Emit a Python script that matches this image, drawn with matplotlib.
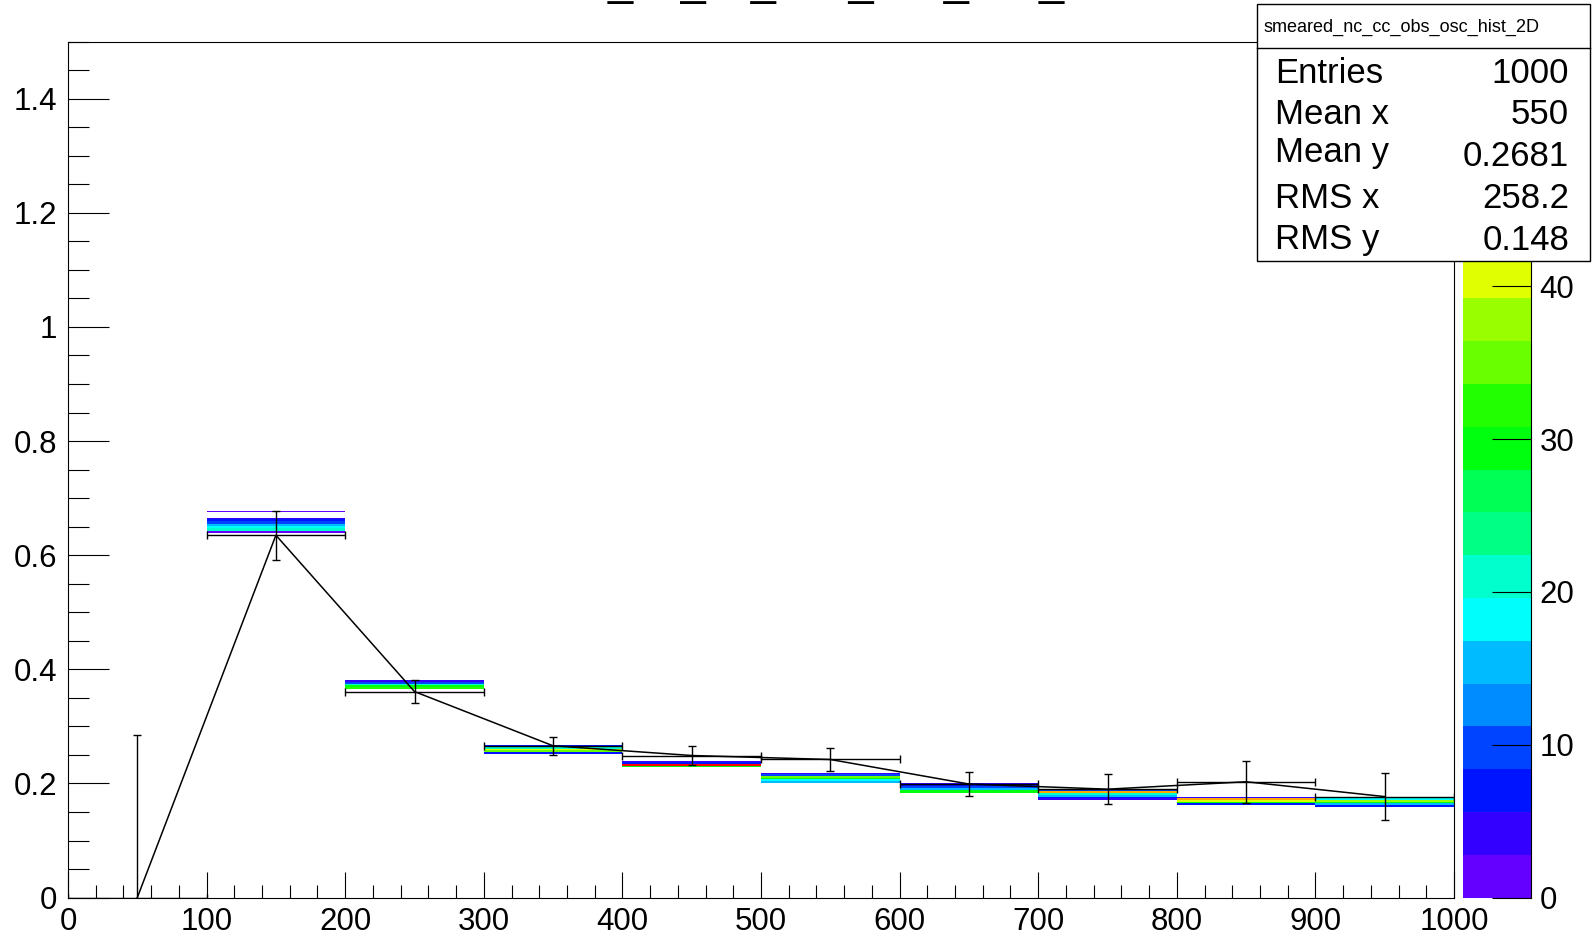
import colorsys
import numpy as np
import matplotlib
matplotlib.use('Agg')
import matplotlib.pyplot as plt
from matplotlib.colors import ListedColormap, BoundaryNorm
from matplotlib.patches import Rectangle
from matplotlib.lines import Line2D
from matplotlib.ticker import MultipleLocator, FuncFormatter

plt.rcParams['font.family'] = ['Liberation Sans', 'DejaVu Sans']

# 2D histogram (x bins of 100, y bins of 0.003) - filled cells per x bin, from lowest y upward
x_edges = [0, 100, 200, 300, 400, 500, 600, 700, 800, 900, 1000]
y_bin_width = 0.003
strip_y_low = [0.0, 0.639, 0.366, 0.252, 0.227, 0.201, 0.183, 0.171, 0.162, 0.159]
strip_counts = [
    [],
    [2, 20, 21, 18, 14, 10, 9, 7, 4, 0, 0, 0, 1],
    [32, 28, 22, 10, 5],
    [8, 34, 40, 22, 6],
    [30, 56, 8, 3],
    [15, 18, 30, 35, 9, 3],
    [30, 29, 14, 10, 7, 4],
    [3, 8, 14, 20, 46, 10],
    [6, 29, 40, 45, 3],
    [8, 14, 29, 38, 18, 6],
]
z_max = 56
n_levels = 20
# the 50 label sits under the stats box, so it is left out
z_ticks = [0, 10, 20, 30, 40]

# profile (mean y per x bin) with errors
prof_x = [50, 150, 250, 350, 450, 550, 650, 750, 850, 950]
prof_y = [0.0, 0.635, 0.361, 0.266, 0.249, 0.242, 0.199, 0.190, 0.203, 0.177]
prof_err = [0.285, 0.043, 0.020, 0.016, 0.017, 0.021, 0.021, 0.026, 0.037, 0.041]

hist_name = 'smeared_nc_cc_obs_osc_hist_2D'
stat_labels = ['Entries', 'Mean x', 'Mean y', 'RMS x', 'RMS y']
stat_values = ['1000', '550', '0.2681', '258.2', '0.148']

# ROOT "pretty" palette, 20 contour levels
colors = []
for i in range(n_levels):
    idx = int((i + 0.99) * 50 / n_levels)
    hue = 280 - (idx + 1) * 5.6
    colors.append(colorsys.hls_to_rgb(hue / 360.0, 0.5, 1.0))
cmap = ListedColormap(colors)
norm = BoundaryNorm(np.linspace(0, z_max, n_levels + 1), n_levels)

n_ybins = int(round(1.5 / y_bin_width))
y_edges = np.linspace(0, 1.5, n_ybins + 1)
Z = np.zeros((n_ybins, len(x_edges) - 1))
for j, (y0, counts) in enumerate(zip(strip_y_low, strip_counts)):
    i0 = int(round(y0 / y_bin_width))
    Z[i0:i0 + len(counts), j] = counts
Zm = np.ma.masked_equal(Z, 0)

W, H = 1592, 938
fig = plt.figure(figsize=(W / 100, H / 100), dpi=100)
ax = fig.add_axes([68 / W, 1 - 897.6 / H, (1454 - 68) / W, (897.6 - 41.6) / H])

mesh = ax.pcolormesh(x_edges, y_edges, Zm, cmap=cmap, norm=norm,
                     shading='flat', antialiased=False, edgecolors='none')

ax.plot(prof_x, prof_y, color='black', lw=1.1, zorder=3)
ax.errorbar(prof_x, prof_y, xerr=50, yerr=prof_err, fmt='none', ecolor='black',
            elinewidth=1.0, capsize=3, capthick=1.0, zorder=3)

ax.set_xlim(0, 1000)
ax.set_ylim(0, 1.5)
ax.xaxis.set_major_locator(MultipleLocator(100))
ax.xaxis.set_minor_locator(MultipleLocator(20))
ax.yaxis.set_major_locator(MultipleLocator(0.2))
ax.yaxis.set_minor_locator(MultipleLocator(0.05))
ax.yaxis.set_major_formatter(FuncFormatter(lambda v, p: '%g' % round(v, 2)))
ax.xaxis.set_major_formatter(FuncFormatter(lambda v, p: '%g' % v))
ax.tick_params(which='both', direction='in', top=False, right=False, width=0.8, labelsize=22.5)
ax.tick_params(axis='x', which='major', length=18.5, pad=7)
ax.tick_params(axis='x', which='minor', length=9.3)
ax.tick_params(axis='y', which='major', length=29.5, pad=8)
ax.tick_params(axis='y', which='minor', length=14.8)
for s in ax.spines.values():
    s.set_linewidth(0.8)

# palette axis
cax = fig.add_axes([1463 / W, 1 - 897.6 / H, (1531 - 1463) / W, (897.6 - 41.6) / H])
cb = fig.colorbar(mesh, cax=cax, ticks=z_ticks)
cb.outline.set_visible(False)
cax.tick_params(direction='in', length=28, width=0.8, labelsize=22.5, pad=6)
cax.minorticks_off()
cax.plot([1, 1], [0, 1], transform=cax.transAxes, color='black', lw=0.8, clip_on=False)

# title, mostly cut off by the top edge
fig.text(0.489, 1 + 5.3 / H, hist_name, fontsize=32.4, ha='center', va='baseline')

# stats box
fig.add_artist(Rectangle((1257 / W, 1 - 261 / H), (1590 - 1257) / W, (261 - 4) / H,
                         transform=fig.transFigure, facecolor='white', edgecolor='black',
                         lw=1, zorder=10))
fig.add_artist(Line2D([1257 / W, 1590 / W], [1 - 48 / H, 1 - 48 / H],
                      transform=fig.transFigure, color='black', lw=1, zorder=11))
fig.text(1264 / W, 1 - 32 / H, hist_name, fontsize=13, ha='left', va='baseline', zorder=12)
label_base = [83, 124, 162, 208, 249]
value_base = [83, 124, 166, 208, 250]
for lab, val, lb, vb in zip(stat_labels, stat_values, label_base, value_base):
    fig.text(1275 / W, 1 - lb / H, lab, fontsize=25, ha='left', va='baseline', zorder=12)
    fig.text(1569 / W, 1 - vb / H, val, fontsize=25, ha='right', va='baseline', zorder=12)

fig.savefig('out.png', dpi=100)
